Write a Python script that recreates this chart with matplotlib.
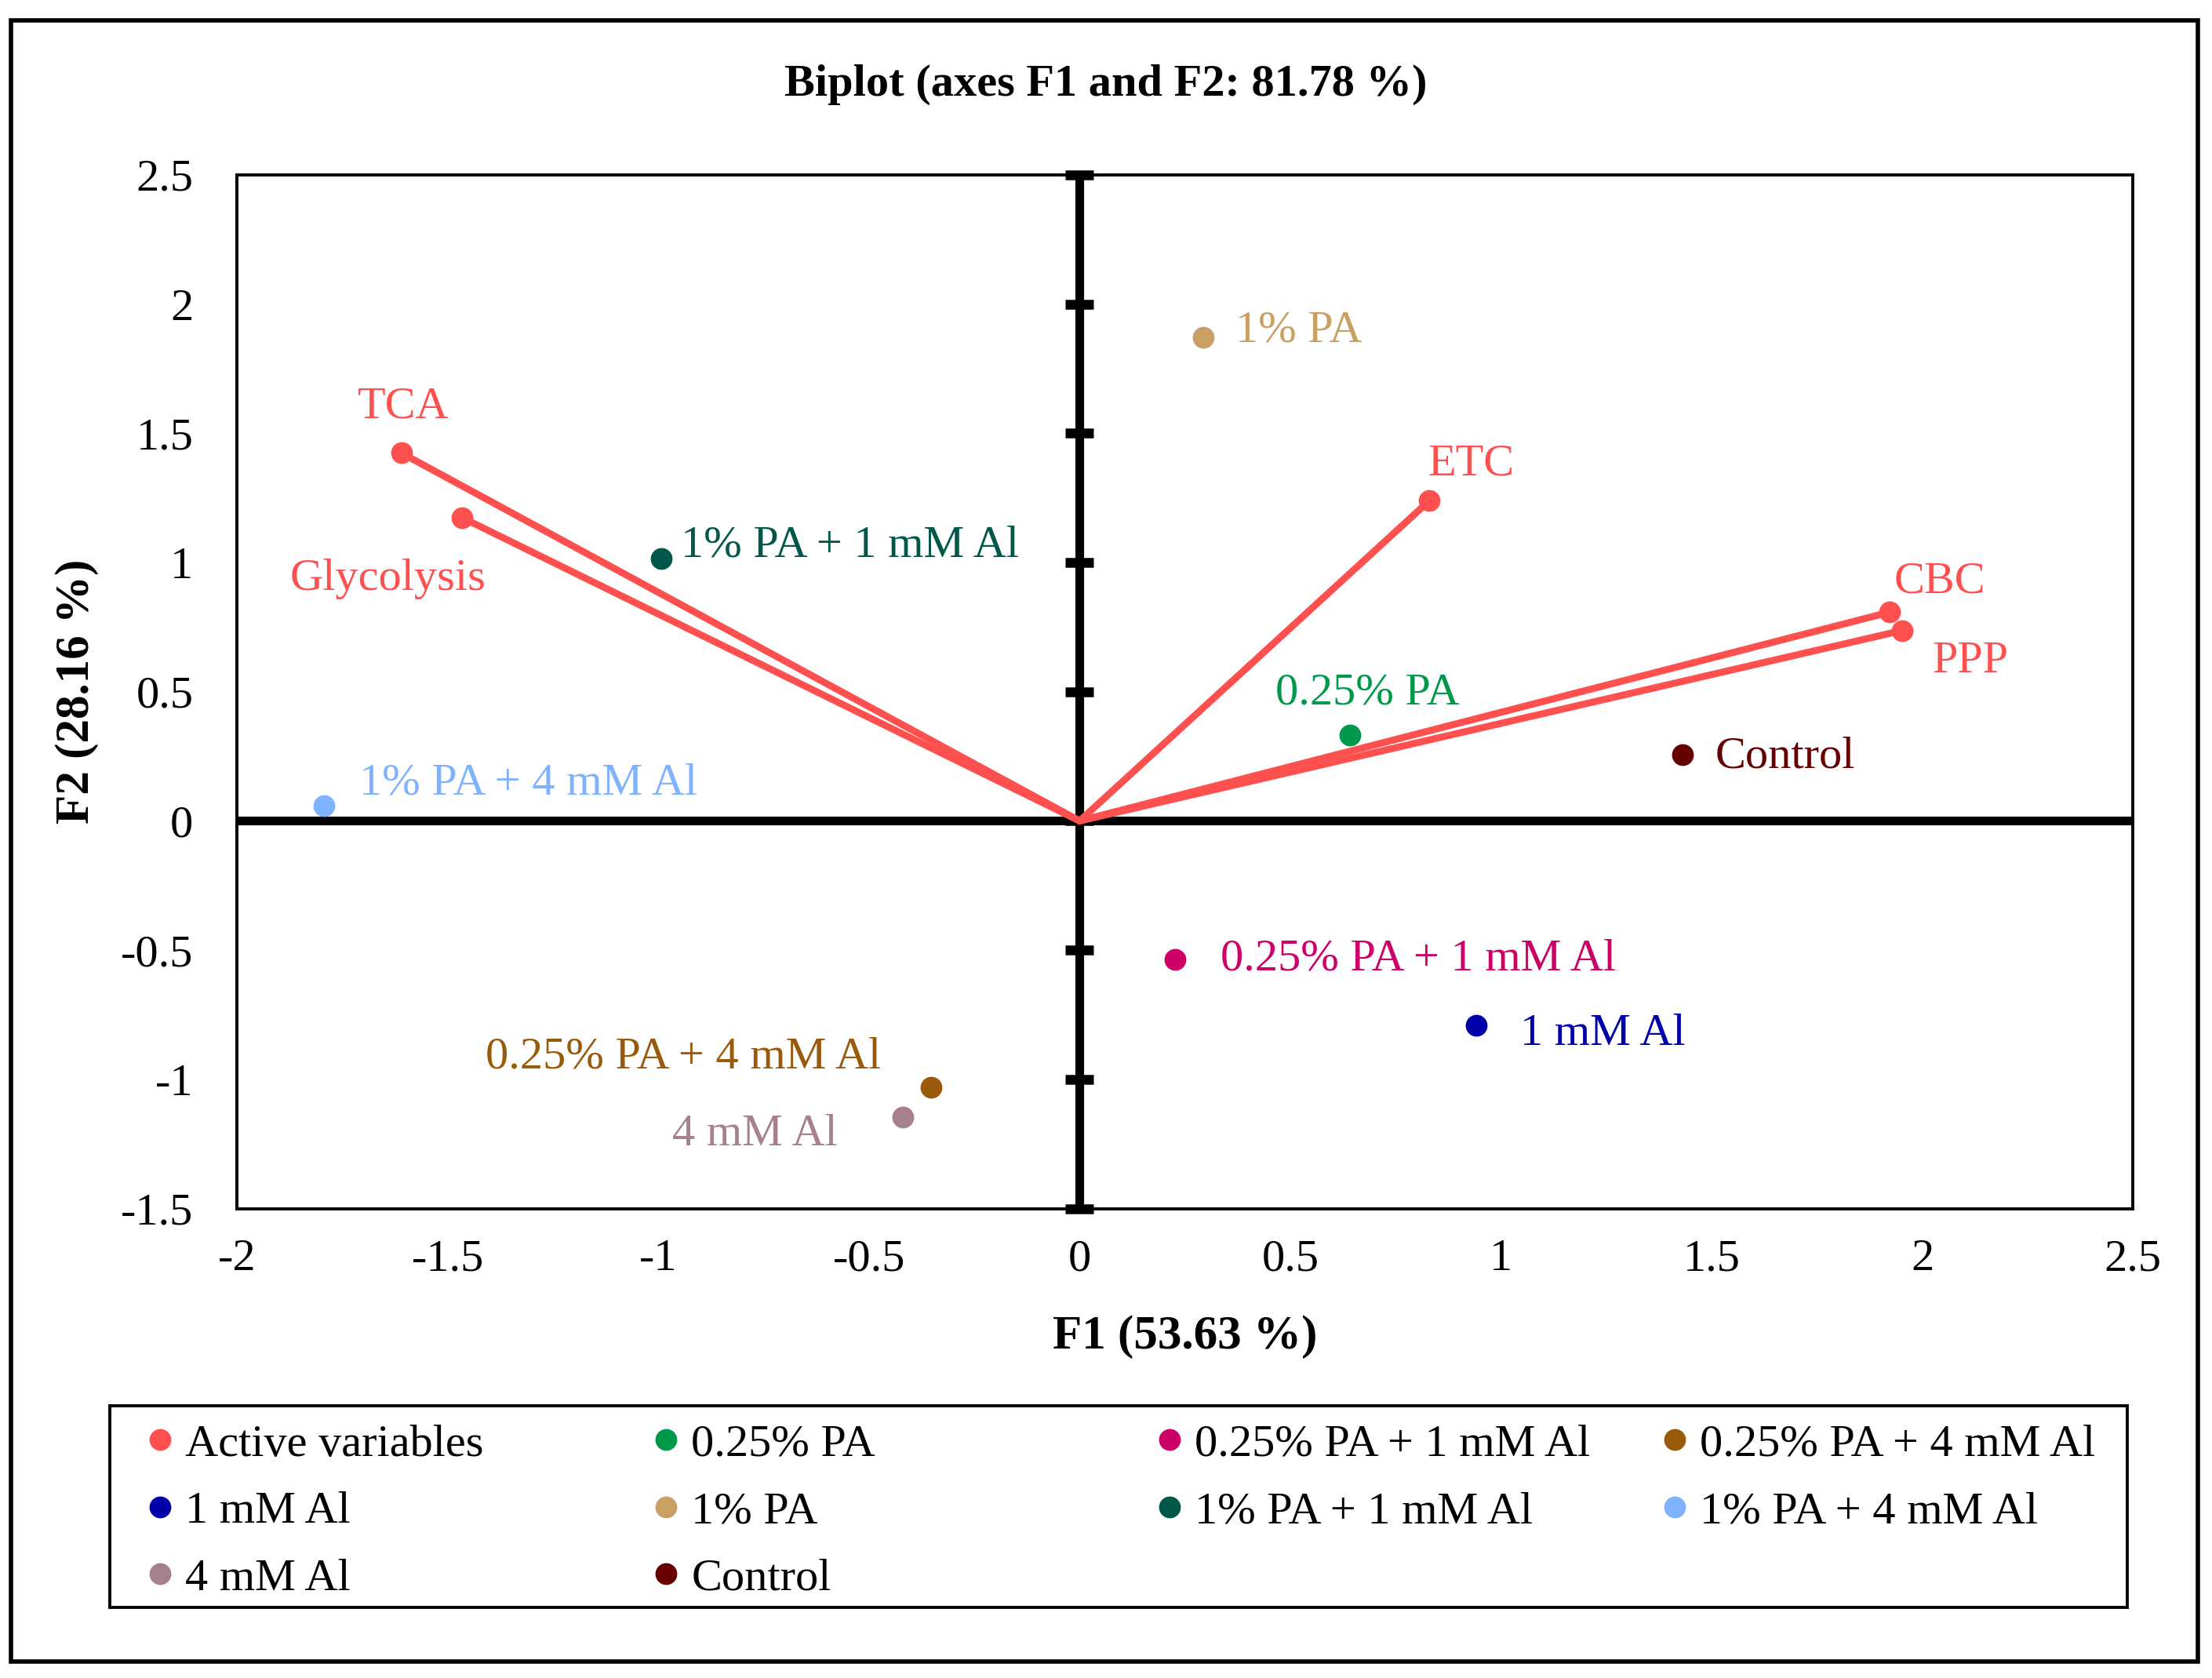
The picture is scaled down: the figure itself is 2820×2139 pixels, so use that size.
import matplotlib.pyplot as plt
from matplotlib.patches import Rectangle
from matplotlib.lines import Line2D

plt.rcParams['font.family'] = ['Liberation Serif', 'DejaVu Serif']

# active variables (loadings)
var_names = ['TCA', 'Glycolysis', 'ETC', 'CBC', 'PPP']
var_x = [-1.61, -1.465, 0.83, 1.923, 1.953]
var_y = [1.424, 1.173, 1.239, 0.808, 0.737]
var_off = [(1, 21), (-34, -28), (19, 17), (23, 14), (31, -14)]

# observations
obs_names = ['0.25% PA', '0.25% PA + 1 mM Al', '0.25% PA + 4 mM Al', '1 mM Al',
             '1% PA', '1% PA + 1 mM Al', '1% PA + 4 mM Al', '4 mM Al', 'Control']
obs_x = [0.641, 0.226, -0.353, 0.942, 0.293, -0.993, -1.793, -0.420, 1.431]
obs_y = [0.333, -0.535, -1.031, -0.791, 1.872, 1.015, 0.060, -1.146, 0.256]
obs_colors = ['#00994C', '#CC0066', '#9A5A0C', '#0000A8', '#C8A064',
              '#00574A', '#80B3FF', '#A6808C', '#660000']
obs_off = [(8, 19), (21, 0), (-23, 14), (20, -4), (15, 3),
           (9, 6), (16, 10), (-30, -8), (15, -1)]
obs_ha = ['center', 'left', 'right', 'left', 'left', 'left', 'left', 'right', 'left']

red = '#FF5050'
xticks = [-2, -1.5, -1, -0.5, 0, 0.5, 1, 1.5, 2, 2.5]
yticks = [-1.5, -1, -0.5, 0, 0.5, 1, 1.5, 2, 2.5]
fs = 21

fig = plt.figure(figsize=(14.1, 10.695), dpi=200)
ax = fig.add_axes([0.1071, 0.2798, 0.8572, 0.616])
ax.set_xlim(-2, 2.5)
ax.set_ylim(-1.5, 2.5)

ax.axhline(0, color='black', lw=4, zorder=1)
ax.axvline(0, color='black', lw=4, zorder=1)
ax.plot([0] * len(yticks), yticks, ls='none', marker='_', ms=13, mew=4.5,
        color='black', zorder=1, clip_on=False)

for name, x, y, off in zip(var_names, var_x, var_y, var_off):
    ax.plot([0, x], [0, y], color=red, lw=3.2, zorder=2, solid_capstyle='round')
    ax.plot(x, y, 'o', color=red, ms=9, zorder=3)
    ax.annotate(name, (x, y), xytext=off, textcoords='offset points',
                ha='center', va='center', color=red, fontsize=fs)

for name, x, y, c, off, ha in zip(obs_names, obs_x, obs_y, obs_colors, obs_off, obs_ha):
    ax.plot(x, y, 'o', color=c, ms=9, zorder=3)
    ax.annotate(name, (x, y), xytext=off, textcoords='offset points',
                ha=ha, va='center', color=c, fontsize=fs)

ax.set_xticks(xticks)
ax.set_yticks(yticks)
ax.set_xticklabels([f'{t:g}' for t in xticks])
ax.set_yticklabels([f'{t:g}' for t in yticks])
ax.tick_params(length=0, labelsize=fs, pad=14)
ax.tick_params(axis='y', pad=20)
for s in ax.spines.values():
    s.set_linewidth(1.4)

ax.set_xlabel('F1 (53.63 %)', fontsize=22, fontweight='bold', labelpad=16)
ax.set_ylabel('F2 (28.16 %)', fontsize=22, fontweight='bold', labelpad=10)
fig.text(0.5, 0.9496, 'Biplot (axes F1 and F2: 81.78 %)', ha='center', va='center',
         fontsize=21, fontweight='bold')

# legend: one frameless legend per column, inside a common box
handles = [Line2D([], [], ls='none', marker='o', color=red, ms=9)]
handles += [Line2D([], [], ls='none', marker='o', color=c, ms=9) for c in obs_colors]
labels = ['Active variables'] + obs_names
col_x = [0.0619, 0.2908, 0.5185, 0.7468]
for j, x0 in enumerate(col_x):
    idx = list(range(j, len(labels), 4))
    fig.legend([handles[i] for i in idx], [labels[i] for i in idx],
               loc='upper left', bbox_to_anchor=(x0, 0.1515), fontsize=fs,
               frameon=False, handletextpad=0.05, handlelength=1.0,
               borderaxespad=0, borderpad=0, labelspacing=0.56)
fig.patches.append(Rectangle((0.0497, 0.042), 0.912, 0.1202, transform=fig.transFigure,
                             fill=False, edgecolor='black', lw=1.4))

fig.patches.append(Rectangle((0.0051, 0.010), 0.9885, 0.978, transform=fig.transFigure,
                             fill=False, edgecolor='black', lw=2))

fig.savefig('out.png', dpi=200)
